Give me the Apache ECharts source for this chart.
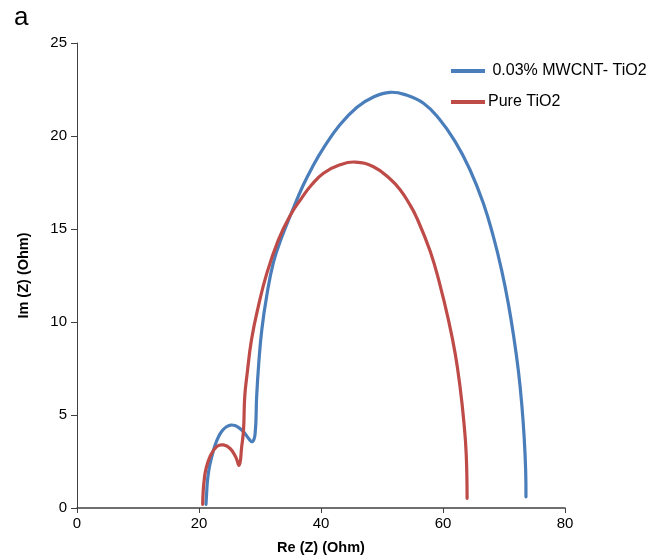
<!DOCTYPE html>
<html>
<head>
<meta charset="utf-8">
<script src="https://cdn.jsdelivr.net/npm/echarts@6/dist/echarts.min.js"></script>
<style>
  html, body { margin: 0; padding: 0; background: #fff; }
  #chart { width: 665px; height: 558px; }
</style>
</head>
<body>
<div id="chart"></div>
<script>
var blueRe = [21.15, 21.25, 21.4, 21.7, 22.1, 22.6, 23.2, 23.8, 24.5, 25.2, 25.9, 26.6, 27.3, 28.1, 28.75, 29.2, 29.45, 29.8, 30.3, 31.1, 32.2, 33.5, 35.2, 37.0, 38.7, 40.4, 43.1, 45.9, 48.6, 51.3, 54.0, 56.8, 59.3, 62.0, 64.4, 66.6, 68.25, 69.6, 70.7, 71.6, 72.35, 72.9, 73.3, 73.55, 73.6]
var blueIm = [0.2, 0.8, 1.5, 2.2, 2.76, 3.35, 3.83, 4.15, 4.37, 4.46, 4.43, 4.3, 4.1, 3.75, 3.57, 4.0, 5.98, 7.8, 9.6, 11.4, 13.2, 14.5, 15.9, 17.3, 18.4, 19.35, 20.6, 21.55, 22.1, 22.35, 22.2, 21.76, 20.95, 19.7, 18.2, 16.4, 14.6, 12.8, 11.0, 9.2, 7.4, 5.63, 3.83, 2.04, 0.6]

var redRe = [20.6, 20.7, 20.85, 21.1, 21.8, 22.9, 24.0, 25.1, 26.0, 26.6, 27.0, 27.3, 27.5, 27.9, 28.6, 29.7, 31.1, 33.0, 34.9, 36.8, 38.4, 40.4, 43.1, 45.6, 48.6, 51.3, 53.0, 54.4, 55.7, 57.9, 59.5, 60.9, 62.0, 62.8, 63.4, 63.8, 63.95]
var redIm = [0.2, 0.97, 1.5, 2.04, 2.76, 3.3, 3.39, 3.2, 2.76, 2.31, 3.3, 4.2, 6.0, 7.24, 9.03, 10.8, 12.6, 14.4, 15.7, 16.65, 17.35, 18.0, 18.45, 18.6, 18.35, 17.7, 17.1, 16.4, 15.6, 13.8, 12.0, 10.1, 8.3, 6.5, 4.7, 2.94, 0.52]

var seriesNames = [' 0.03% MWCNT- TiO2', 'Pure TiO2']
var seriesColors = ['#4A7EBB', '#BE4B48']
var xTicks = { min: 0, max: 80, interval: 20 }
var yTicks = { min: 0, max: 25, interval: 5 }

function pairs(xs, ys) {
  var out = []
  for (var i = 0; i < xs.length; i++) out.push([xs[i], ys[i]])
  return out
}

// whole curve as one smoothed polyline, points placed via the axis scales
function curve(name, color, data) {
  return {
    name: name, type: 'custom', coordinateSystem: 'cartesian2d',
    encode: { x: 0, y: 1 },
    itemStyle: { color: color },
    data: data,
    renderItem: function (params, api) {
      if (params.dataIndex !== 0) return null
      var pts = data.map(function (p) { return api.coord(p) })
      return {
        type: 'polyline',
        shape: { points: pts, smooth: 0.45 },
        style: { stroke: color, lineWidth: 3.2, fill: null, lineJoin: 'round', lineCap: 'round' }
      }
    }
  }
}

var chart = echarts.init(document.getElementById('chart'), null, { renderer: 'canvas' })
var font = '"Liberation Sans", Arial, sans-serif'
var axisColor = '#404040'

var option = {
  animation: false,
  textStyle: { fontFamily: font },
  graphic: [{
    type: 'text', left: 14, top: 5,
    style: { text: 'a', font: '26px ' + font, fill: '#000' }
  }],
  legend: {
    orient: 'vertical',
    left: 446, top: 58,
    itemWidth: 34, itemHeight: 4, itemGap: 15,
    icon: 'rect',
    textStyle: { fontSize: 16, color: '#000', fontFamily: font, padding: [0, 0, 0, -2] },
    data: seriesNames
  },
  grid: { left: 77, right: 100, top: 43, bottom: 50, outerBoundsMode: 'none', containLabel: false },
  xAxis: {
    type: 'value',
    min: xTicks.min, max: xTicks.max, interval: xTicks.interval,
    name: 'Re (Z) (Ohm)', nameLocation: 'middle', nameGap: 32,
    nameTextStyle: { fontWeight: 'bold', fontSize: 14.5, color: '#000' },
    axisLine: { lineStyle: { color: axisColor, width: 1.5 } },
    axisTick: { show: true, length: 5, lineStyle: { color: axisColor } },
    axisLabel: { fontSize: 15, color: '#000', margin: 8 },
    splitLine: { show: false }
  },
  yAxis: {
    type: 'value',
    min: yTicks.min, max: yTicks.max, interval: yTicks.interval,
    name: 'Im (Z) (Ohm)', nameLocation: 'middle', nameGap: 46, nameRotate: 90,
    nameTextStyle: { fontWeight: 'bold', fontSize: 14.5, color: '#000' },
    axisLine: { show: true, lineStyle: { color: axisColor, width: 1 } },
    axisTick: { show: true, length: 6, lineStyle: { color: axisColor } },
    axisLabel: { fontSize: 15, color: '#000', margin: 10 },
    splitLine: { show: false }
  },
  series: [
    curve(seriesNames[0], seriesColors[0], pairs(blueRe, blueIm)),
    curve(seriesNames[1], seriesColors[1], pairs(redRe, redIm))
  ]
}

chart.setOption(option)
</script>
</body>
</html>
